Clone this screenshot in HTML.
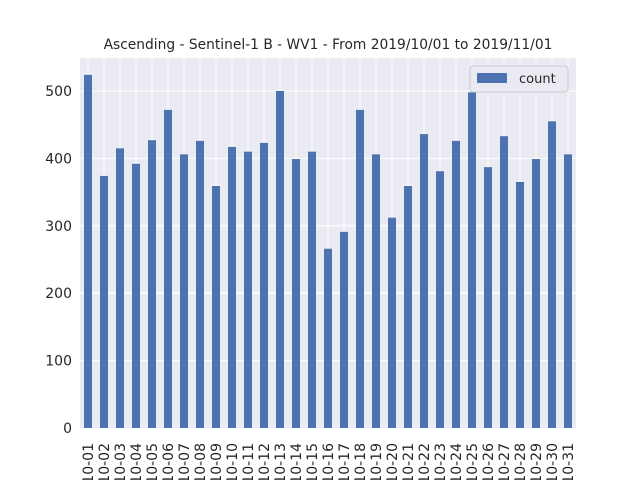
<!DOCTYPE html>
<html><head><meta charset="utf-8"><style>html,body{margin:0;background:#fff;width:640px;height:480px;overflow:hidden}svg{display:block;font-family:"DejaVu Sans","Liberation Sans",sans-serif;overflow:hidden}</style></head>
<body>
<svg id="chart" width="640" height="480">
<rect x="0" y="0" width="640" height="480" fill="#fff"/>
<rect x="80" y="58" width="496" height="370" fill="#eaeaf2"/>
<text x="328" y="49" font-size="13.8" text-anchor="middle" fill="#262626">Ascending - Sentinel-1 B - WV1 - From 2019/10/01 to 2019/11/01</text>
<g id="grid"></g><g id="bars"></g><g id="xt"></g><g id="yt"></g>
<g>
<rect x="470" y="66" width="98" height="26" rx="3" fill="#eaeaf2" stroke="#cccccc"/>
<rect x="477" y="73" width="30" height="10" fill="#4c72b0"/>
<text x="519" y="83" font-size="13" fill="#262626">count</text>
</g>
</svg>
<script>
const categories=[];for(let d=1;d<=31;d++)categories.push('2019-10-'+String(d).padStart(2,'0'));
const counts=[524,374,415,392,427,472,406,426,359,417,410,423,500,399,410,266,291,472,406,312,359,436,381,426,498,387,433,365,399,455,406];
const yTicks=[0,100,200,300,400,500];
const NS='http://www.w3.org/2000/svg';
const x0=80,w=496,yb=428,k=337/500;
const xs=i=>x0+w/categories.length*(i+0.5);
const ys=v=>yb-v*k;
function mk(t,a,p){const e=document.createElementNS(NS,t);for(const q in a)e.setAttribute(q,a[q]);document.getElementById(p).appendChild(e);return e;}
yTicks.forEach(v=>{
 const l=mk('line',{x1:x0,x2:x0+w,y1:ys(v),y2:ys(v),stroke:'#fff','stroke-width':1},'grid');
 
 
 const t=mk('text',{x:72,y:ys(v)+5,'font-size':14,'text-anchor':'end',fill:'#262626'},'yt');
 t.textContent=v;
 
 
});
categories.forEach((c,i)=>{
 const g=mk('line',{x1:xs(i),x2:xs(i),y1:58,y2:yb,stroke:'#fff','stroke-width':1},'grid');
 
 
 const b=mk('rect',{x:xs(i)-4,y:ys(counts[i]),width:8,height:counts[i]*k,fill:'#4c72b0'},'bars');
 
 
 const t=mk('text',{x:0,y:0,'font-size':14,'text-anchor':'end',fill:'#262626',transform:`translate(${xs(i)+5},443) rotate(-90)`},'xt');
 t.textContent=c;
 
 
});
</script>
</body></html>
